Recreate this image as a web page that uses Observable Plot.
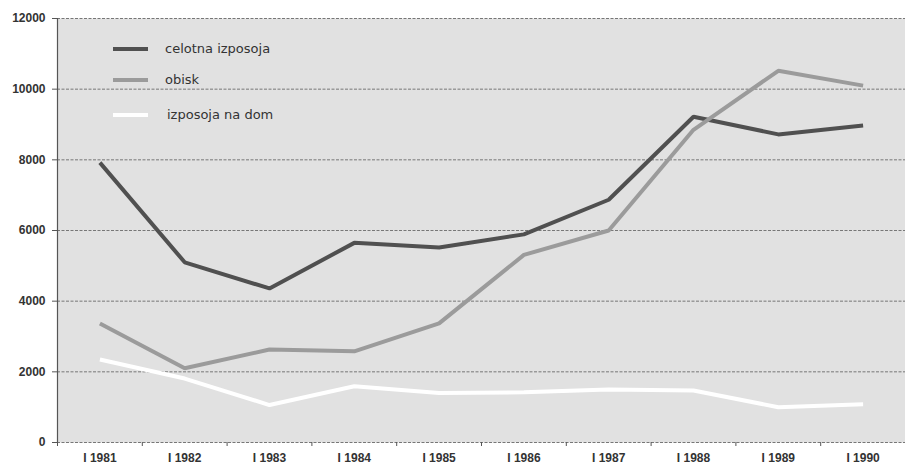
<!DOCTYPE html>
<html>
<head>
<meta charset="utf-8">
<script src="https://cdn.jsdelivr.net/npm/d3@7"></script>
<script src="https://cdn.jsdelivr.net/npm/@observablehq/plot@0.6"></script>
<style>
  html, body { margin: 0; padding: 0; background: #fff; }
  #wrap { position: relative; width: 905px; height: 468px; }
  #legend { position: absolute; left: 113px; top: 36px; font-family: "DejaVu Sans", sans-serif; font-size: 13px; color: #333; }
  .row { position: absolute; left: 0; white-space: nowrap; height: 20px; }
  .sw { position: absolute; left: 0; top: 8px; width: 35px; height: 4px; }
  .lb { position: absolute; left: 52px; top: 0; line-height: 20px; }
</style>
</head>
<body>
<div id="wrap">
  <div id="chart"></div>
  <div id="legend"></div>
</div>
<script>
const years = ["I 1981","I 1982","I 1983","I 1984","I 1985","I 1986","I 1987","I 1988","I 1989","I 1990"];
const seriesNames = ["celotna izposoja","obisk","izposoja na dom"];
const seriesColors = ["#505050","#9b9b9b","#ffffff"];
const celotna = [7920, 5100, 4360, 5650, 5520, 5890, 6870, 9220, 8720, 8970];
const obisk   = [3370, 2100, 2630, 2580, 3370, 5310, 6000, 8850, 10520, 10100];
const naDom   = [2350, 1810, 1060, 1590, 1400, 1420, 1500, 1470, 1000, 1080];
const yTicks = [0, 2000, 4000, 6000, 8000, 10000, 12000];

const values = [celotna, obisk, naDom];
const data = [];
values.forEach((arr, s) => arr.forEach((v, i) => data.push({series: seriesNames[s], i: i + 1, year: years[i], value: v})));
const centers = years.map((_, i) => i + 1);
const bounds = d3.range(0, years.length + 1).map(i => i + 0.5);

const chart = Plot.plot({
  width: 905,
  height: 468,
  marginLeft: 57,
  marginRight: 0,
  marginTop: 18,
  marginBottom: 26,
  style: {fontFamily: "'Liberation Sans', Arial, sans-serif", fontSize: "12px", fontWeight: "bold", color: "#333", background: "transparent"},
  x: {type: "linear", domain: [0.5, years.length + 0.5], axis: null, label: null},
  y: {domain: [0, 12000], axis: null, label: null},
  color: {domain: seriesNames, range: seriesColors},
  marks: [
    Plot.frame({fill: "#e1e1e1", stroke: null}),
    Plot.ruleY(yTicks, {stroke: "#777", strokeWidth: 1, strokeDasharray: "3,1.5"}),
    Plot.ruleX([0.5], {stroke: "#555", strokeWidth: 1.2}),
    Plot.axisY(yTicks, {label: null, tickSize: 5, tickPadding: 7, tickFormat: d => String(d), stroke: "#555", fill: "#333", fontWeight: "bold", fontSize: 12}),
    Plot.axisX(bounds, {label: null, tickSize: 4, tickFormat: () => "", stroke: "#555"}),
    Plot.axisX(centers, {label: null, tickSize: 0, tickPadding: 11, tickFormat: d => years[d - 1], fill: "#333", fontWeight: "bold", fontSize: 12}),
    Plot.line(data, {x: "i", y: "value", z: "series", stroke: "series", strokeWidth: 4, strokeLinejoin: "miter", strokeLinecap: "butt"})
  ]
});
document.getElementById("chart").appendChild(chart);

const legendTops = [3, 34, 69];
const legend = document.getElementById("legend");
seriesNames.forEach((name, k) => {
  const row = document.createElement("div");
  row.className = "row";
  row.style.top = legendTops[k] + "px";
  row.innerHTML = `<div class="sw" style="background:${seriesColors[k]}"></div><div class="lb" style="left:${k === 2 ? 54 : 52}px">${name}</div>`;
  legend.appendChild(row);
});
</script>
</body>
</html>
